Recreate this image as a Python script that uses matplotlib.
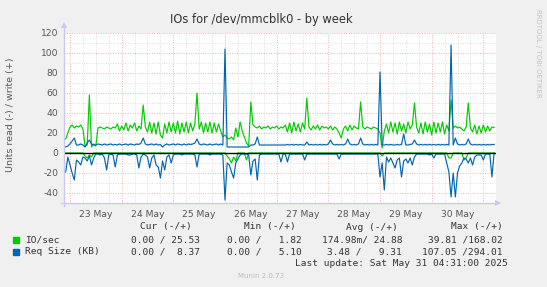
import numpy as np
import matplotlib
matplotlib.use("Agg")
import matplotlib.pyplot as plt
from matplotlib.lines import Line2D
from matplotlib.patches import Rectangle

# hourly samples, starting 22 May 21:00 (day offset -0.125 from 23 May 00:00)
io_write = [
    13, 14, 20, 26, 28, 25, 27, 26, 28, 24, 7, 8,
    58, 6, 9, 7, 25, 26, 25, 24, 26, 25, 24, 26,
    25, 29, 22, 27, 23, 30, 22, 28, 25, 30, 22, 27,
    24, 48, 26, 21, 31, 20, 30, 19, 31, 18, 15, 29,
    20, 31, 21, 30, 20, 32, 19, 30, 21, 31, 20, 30,
    22, 29, 60, 24, 31, 20, 30, 21, 31, 20, 30, 21,
    29, 22, 16, 18, 15, 14, 16, 13, 25, 16, 31, 22,
    16, 10, 7, 51, 28, 26, 25, 27, 24, 26, 25, 27,
    24, 26, 25, 27, 24, 26, 25, 28, 21, 30, 20, 31,
    22, 29, 21, 30, 24, 55, 26, 23, 27, 24, 28, 23,
    27, 25, 26, 24, 27, 23, 26, 24, 20, 15, 24, 27,
    22, 28, 23, 27, 25, 24, 51, 26, 24, 26, 25, 24,
    26, 25, 24, 20, 5, 22, 29, 20, 31, 21, 30, 19,
    31, 22, 29, 20, 31, 24, 28, 50, 26, 20, 30, 19,
    31, 21, 29, 18, 31, 20, 30, 21, 31, 19, 28, 22,
    53, 25, 27, 25, 26, 24, 22, 26, 50, 25, 21, 28,
    19, 27, 20, 28, 21, 27, 22, 26, 25.53,
]
io_read = [
    0, 0, 0, 0, 0, 0, 0, 0, 0, 0, 3, 5,
    2, 4, 0, 0, 0, 0, 0, 0, 0, 0, 0, 0,
    0, 0, 0, 0, 0, 0, 0, 0, 0, 0, 0, 0,
    0, 0, 0, 0, 0, 0, 0, 0, 0, 0, 0, 0,
    0, 0, 0, 0, 0, 0, 0, 0, 0, 0, 0, 0,
    0, 0, 0, 0, 0, 0, 0, 0, 0, 0, 0, 0,
    0, 0, 0, 0, 3, 6, 10, 4, 8, 0, 0, 0,
    0, 7, 0, 0, 0, 0, 0, 0, 0, 0, 0, 0,
    0, 0, 0, 0, 0, 0, 0, 0, 0, 0, 0, 0,
    0, 0, 0, 0, 0, 0, 0, 0, 0, 0, 0, 0,
    0, 0, 0, 0, 0, 0, 0, 0, 0, 0, 0, 0,
    0, 0, 0, 0, 0, 0, 0, 0, 0, 0, 0, 0,
    0, 0, 0, 0, 3, 0, 0, 0, 0, 0, 0, 0,
    0, 0, 0, 0, 0, 0, 0, 0, 0, 0, 0, 0,
    0, 0, 0, 0, 0, 0, 0, 0, 0, 0, 0, 5,
    5, 0, 0, 0, 0, 0, 7, 5, 0, 0, 0, 0,
    0, 0, 0, 0, 0, 0, 0, 0, 0,
]
req_write = [
    6, 6, 7, 9, 12, 15, 8, 8, 9, 8, 6, 10,
    13, 9, 8, 8, 9, 8.5, 8, 9, 8, 8.5, 9, 8,
    8.5, 8, 9, 8, 8.5, 9, 8, 9, 8.5, 8, 9, 8.5,
    10, 15, 9, 8, 8.5, 9, 8, 9, 8, 8.5, 6, 8,
    9, 8, 8.5, 9, 8, 9, 8.5, 8, 9, 8, 9, 8.5,
    9, 10, 14, 9, 8, 9, 8.5, 8, 9, 8, 8.5, 9,
    8, 9, 8, 104, 6, 6, 6, 6, 6, 6, 6, 6,
    6, 6, 6, 8, 8, 9, 16, 8, 8, 8, 8, 8,
    8, 8, 8, 8, 8, 8, 8, 8, 8.5, 8, 8.5, 8,
    8.5, 8, 8.5, 8, 8, 11, 8, 8.5, 8, 8.5, 8, 8.5,
    8, 8.5, 8, 9, 13, 9, 8, 8.5, 8, 8.5, 8, 9,
    14, 9, 8, 8.5, 8, 9, 15, 9, 8, 8.5, 8, 8.5,
    8, 8.5, 8, 81, 8, 8, 8.5, 8, 8.5, 8, 8, 8.5,
    8, 8.5, 19, 8, 8, 8.5, 9, 13, 9, 8, 8.5, 8,
    8.5, 8, 8.5, 8, 8.5, 8, 8.5, 8, 8.5, 8, 8.5, 8,
    108, 8, 15, 9, 8, 8.5, 8, 9, 14, 9, 8, 8.5,
    8, 8.5, 8, 8.5, 8, 8.5, 8, 8.5, 8.37,
]
req_read = [
    19, 19, 4, 12, 20, 27, 7, 9, 12, 4, 5, 8,
    3, 12, 5, 1, 1, 2, 1, 5, 17, 2, 1, 2,
    14, 2, 1, 1, 1, 1, 2, 2, 1, 1, 2, 15,
    4, 1, 2, 4, 15, 5, 2, 12, 14, 25, 8, 17,
    4, 2, 10, 2, 1, 1, 1, 2, 1, 1, 1, 1,
    1, 2, 14, 1, 1, 1, 1, 1, 2, 1, 1, 1,
    1, 1, 2, 47, 10, 12, 19, 25, 10, 6, 2, 1,
    1, 1, 2, 22, 8, 6, 27, 2, 1, 1, 1, 1,
    1, 1, 1, 1, 1, 9, 1, 1, 9, 1, 1, 1,
    1, 1, 1, 1, 7, 1, 1, 1, 1, 1, 1, 1,
    1, 1, 1, 1, 1, 1, 1, 1, 6, 1, 1, 1,
    1, 1, 1, 1, 1, 1, 1, 1, 1, 1, 1, 1,
    1, 1, 1, 24, 10, 37, 4, 9, 5, 10, 15, 7,
    5, 24, 8, 6, 10, 5, 12, 4, 1, 1, 1, 1,
    1, 1, 2, 1, 5, 1, 1, 1, 1, 1, 10, 19,
    44, 20, 44, 20, 13, 10, 5, 6, 10, 5, 12, 4,
    2, 2, 2, 7, 1, 1, 1, 24, 0,
]

day_labels = ["23 May", "24 May", "25 May", "26 May", "27 May", "28 May", "29 May", "30 May"]
y_ticks = [-40, -20, 0, 20, 40, 60, 80, 100, 120]

legend_names = ["IO/sec", "Req Size (KB)"]
legend_cols = ["Cur (-/+)", "Min (-/+)", "Avg (-/+)", "Max (-/+)"]
legend_vals = [
    ["0.00 / 25.53", "0.00 /   1.82", "174.98m/ 24.88", "39.81 /168.02"],
    ["0.00 /  8.37", "0.00 /   5.10", "3.48 /   9.31", "107.05 /294.01"],
]

GREEN = "#00CC00"
BLUE = "#0066B3"
W, H = 547, 287

t = -0.125 + np.arange(len(io_write)) / 24.0

fig = plt.figure(figsize=(W / 100, H / 100), dpi=100, facecolor="#F0F0F0")
ax = fig.add_axes([64 / W, 1 - 203 / H, (496 - 64) / W, (203 - 33) / H])
ax.set_facecolor("white")
ax.set_xlim(-0.116, 8.245)
ax.set_ylim(-50, 120)

# grid: red dotted major, gray dotted minor
dots = (0, (1, 1.5))
major_c = "#F0B4B4"
minor_c = "#DEDEDE"
for v in range(-40, 121, 10):
    ax.axhline(v, color=major_c if v % 20 == 0 else minor_c, lw=0.7, ls=dots, zorder=0)
for q in np.arange(0, 8.25, 0.25):
    ax.axvline(q, color=major_c if q == int(q) else minor_c, lw=0.7, ls=dots, zorder=0)

lw = 0.85
ax.plot(t, -np.array(io_read), color=GREEN, lw=lw, zorder=2)
ax.plot(t, io_write, color=GREEN, lw=lw, zorder=2)
ax.plot(t, -np.array(req_read), color=BLUE, lw=lw, zorder=3)
ax.plot(t, req_write, color=BLUE, lw=lw, zorder=3)
ax.axhline(0, color="black", lw=1.0, zorder=4)

for s in ax.spines.values():
    s.set_visible(False)
ax.set_yticks(y_ticks)
ax.set_yticklabels([str(v) for v in y_ticks])
ax.set_xticks(np.arange(len(day_labels)) + 0.5)
ax.set_xticklabels(day_labels)
ax.tick_params(axis="both", length=0, labelsize=6.6, colors="#555555")
ax.tick_params(axis="y", pad=4)
ax.tick_params(axis="x", pad=5)

# axis lines with arrows
axc = "#C8C8F0"
fig.add_artist(Line2D([64 / W, 64 / W], [1 - 206 / H, 1 - 25 / H], color=axc, lw=1))
fig.add_artist(Line2D([61 / W, 498 / W], [1 - 203 / H, 1 - 203 / H], color=axc, lw=1))
fig.add_artist(Line2D([64 / W], [1 - 25 / H], marker="^", ms=4, color=axc, mew=0))
fig.add_artist(Line2D([498 / W], [1 - 203 / H], marker=">", ms=4, color=axc, mew=0))

fig.text(261 / W, 1 - 19 / H, "IOs for /dev/mmcblk0 - by week", ha="center", va="center",
         fontsize=8.3, color="#333333")
fig.text(11 / W, 1 - 115 / H, "Units read (-) / write (+)", rotation=90, ha="center",
         va="center", fontsize=6.8, color="#555555")
fig.text(538 / W, 1 - 53 / H, "RRDTOOL / TOBI OETIKER", rotation=270, ha="center",
         va="center", fontsize=5.0, color="#C4C4C4")

mono = "DejaVu Sans Mono"
fs = 6.8
tc = "#333333"
head_x = [192, 296, 398, 503]
val_x = [200, 302, 402, 503]
for x, s in zip(head_x, legend_cols):
    fig.text(x / W, 1 - 227 / H, s, ha="right", va="center", family=mono, fontsize=fs, color=tc)
row_y = [240, 252]
for name, vals, yy, col in zip(legend_names, legend_vals, row_y, [GREEN, BLUE]):
    fig.add_artist(Rectangle((13 / W, 1 - (yy + 3) / H), 6 / W, 6 / H, color=col,
                             transform=fig.transFigure))
    fig.text(25 / W, 1 - yy / H, name, ha="left", va="center", family=mono, fontsize=fs, color=tc)
    for x, s in zip(val_x, vals):
        fig.text(x / W, 1 - yy / H, s, ha="right", va="center", family=mono, fontsize=fs, color=tc)
fig.text(508 / W, 1 - 263 / H, "Last update: Sat May 31 04:31:00 2025", ha="right",
         va="center", family=mono, fontsize=fs, color=tc)
fig.text(261 / W, 1 - 276 / H, "Munin 2.0.73", ha="center", va="center", fontsize=5.0,
         color="#BBBBBB")

fig.savefig("out.png", dpi=100, facecolor=fig.get_facecolor())
